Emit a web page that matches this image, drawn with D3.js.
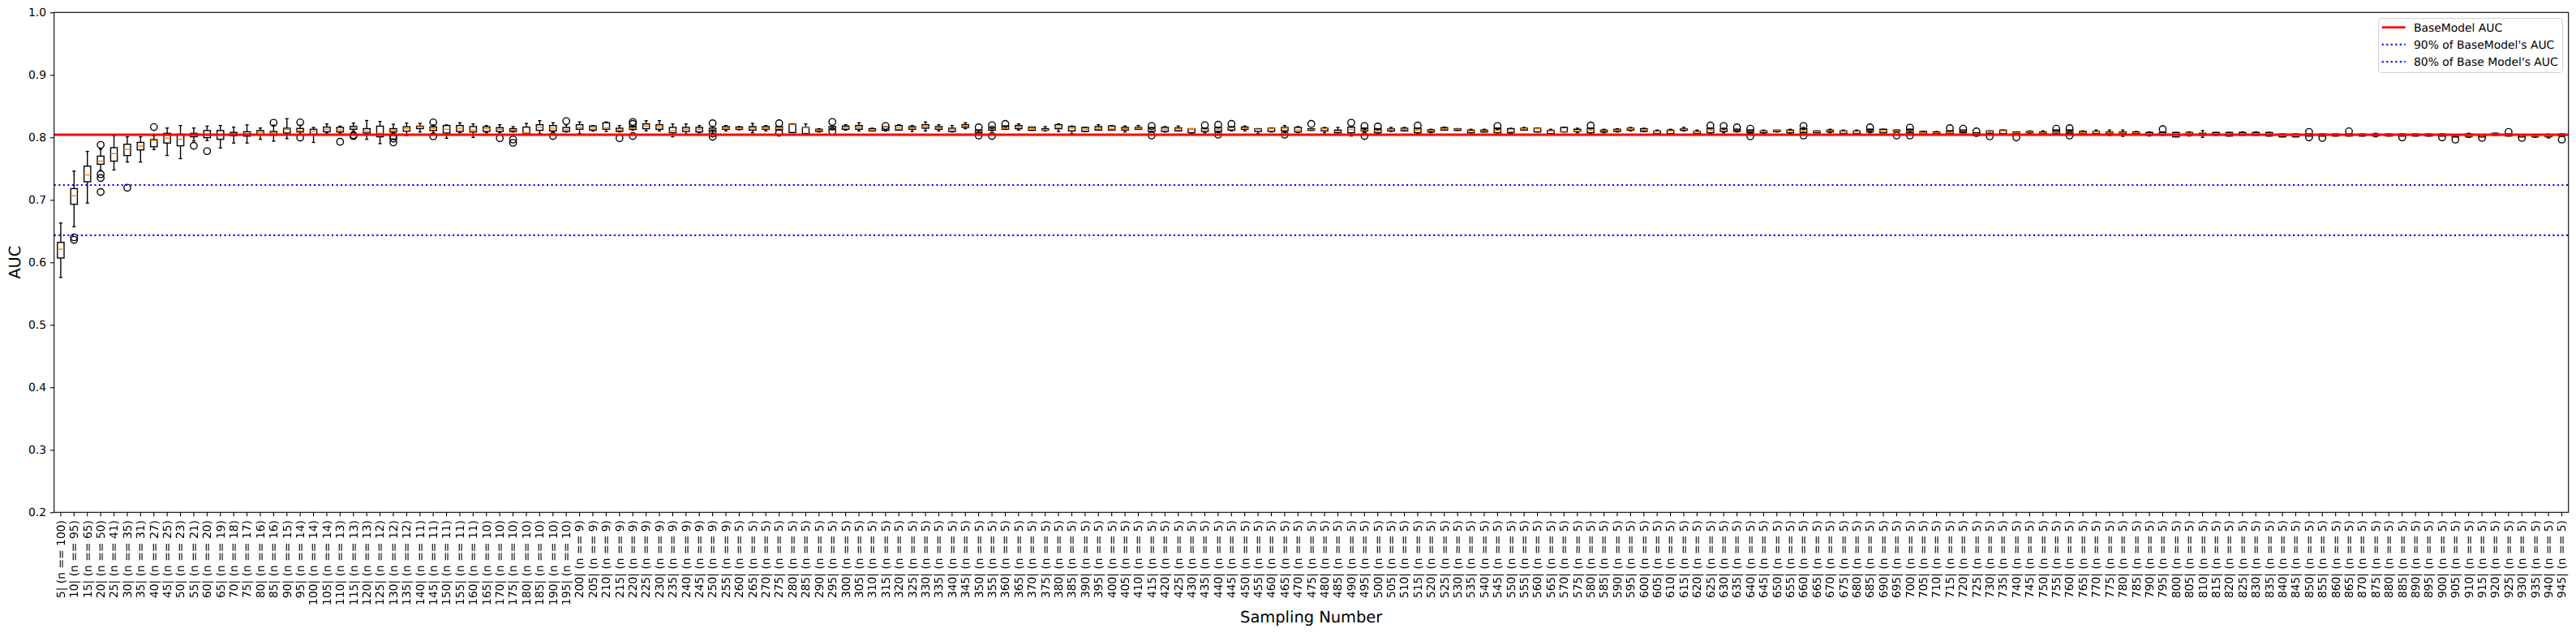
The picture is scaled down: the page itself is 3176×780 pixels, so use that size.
<!DOCTYPE html>
<html>
<head>
<meta charset="utf-8">
<script src="https://cdn.jsdelivr.net/npm/d3@7"></script>
<style>
  html, body { margin: 0; padding: 0; background: #fff; -webkit-font-smoothing: antialiased; }
  svg { display: block; font-family: "DejaVu Sans", sans-serif; }
  svg text { -webkit-font-smoothing: antialiased; text-rendering: geometricPrecision; }
</style>
</head>
<body>
<svg id="chart" width="3176" height="780"></svg>
<script>
// ---------------- DATA ----------------
const samplingNumbers = [
  5,10,15,20,25,30,35,40,45,50,55,60,65,70,75,80,85,90,95,100,
  105,110,115,120,125,130,135,140,145,150,155,160,165,170,175,180,185,190,195,200,
  205,210,215,220,225,230,235,240,245,250,255,260,265,270,275,280,285,290,295,300,
  305,310,315,320,325,330,335,340,345,350,355,360,365,370,375,380,385,390,395,400,
  405,410,415,420,425,430,435,440,445,450,455,460,465,470,475,480,485,490,495,500,
  505,510,515,520,525,530,535,540,545,550,555,560,565,570,575,580,585,590,595,600,
  605,610,615,620,625,630,635,640,645,650,655,660,665,670,675,680,685,690,695,700,
  705,710,715,720,725,730,735,740,745,750,755,760,765,770,775,780,785,790,795,800,
  805,810,815,820,825,830,835,840,845,850,855,860,865,870,875,880,885,890,895,900,
  905,910,915,920,925,930,935,940,945
];
const sampleCounts = [
  100,95,65,50,41,35,31,27,25,23,21,20,19,18,17,16,16,15,14,14,
  14,13,13,13,12,12,12,11,11,11,11,11,10,10,10,10,10,10,10,9,
  9,9,9,9,9,9,9,9,9,9,9,5,5,5,5,5,5,5,5,5,
  5,5,5,5,5,5,5,5,5,5,5,5,5,5,5,5,5,5,5,5,
  5,5,5,5,5,5,5,5,5,5,5,5,5,5,5,5,5,5,5,5,
  5,5,5,5,5,5,5,5,5,5,5,5,5,5,5,5,5,5,5,5,
  5,5,5,5,5,5,5,5,5,5,5,5,5,5,5,5,5,5,5,5,
  5,5,5,5,5,5,5,5,5,5,5,5,5,5,5,5,5,5,5,5,
  5,5,5,5,5,5,5,5,5,5,5,5,5,5,5,5,5,5,5,5,
  5,5,5,5,5,5,5,5,5
];
const whiskerLow = [
  0.576,0.657,0.695,0.747,0.748,0.7606,0.7606,0.7805,0.771,0.766,
  0.7944,0.795,0.783,0.791,0.791,0.797,0.794,0.798,0.805,0.792,
  0.807,0.807,0.810,0.797,0.790,0.8065,0.803,0.8087,0.807,0.7987,
  0.8074,0.8000,0.8074,0.8074,0.8087,0.8052,0.8061,0.8087,0.8087,0.8061,
  0.8104,0.8095,0.8087,0.8117,0.8104,0.8104,0.8009,0.8052,0.8074,0.8074,
  0.8104,0.8121,0.8074,0.8104,0.8117,0.8074,0.8061,0.8087,0.8121,0.8117,
  0.8104,0.8104,0.8104,0.8117,0.8095,0.8104,0.8104,0.8087,0.8139,0.8074,
  0.8104,0.813,0.8117,0.8113,0.8104,0.8095,0.8061,0.8095,0.8117,0.8117,
  0.8087,0.813,0.8095,0.8087,0.8104,0.8061,0.8074,0.8074,0.8104,0.8104,
  0.8061,0.8087,0.8074,0.8074,0.8113,0.8074,0.8074,0.8022,0.8095,0.8061,
  0.8095,0.8104,0.8061,0.8074,0.8117,0.8113,0.8074,0.8087,0.8043,0.8061,
  0.8117,0.8087,0.8043,0.8087,0.8074,0.8061,0.8074,0.8087,0.8104,0.8095,
  0.8043,0.8043,0.8104,0.8061,0.8061,0.8074,0.8087,0.8061,0.8061,0.8087,
  0.8061,0.8043,0.8074,0.8074,0.8061,0.8061,0.8074,0.8074,0.8095,0.8074,
  0.8052,0.8061,0.8061,0.8074,0.8017,0.8061,0.8052,0.8052,0.8061,0.8061,
  0.8043,0.8043,0.8061,0.8052,0.803,0.8017,0.8061,0.8022,0.8035,0.8009,
  0.8022,0.8,0.8035,0.8022,0.8035,0.8035,0.8022,0.8009,0.8009,0.8022,
  0.8022,0.8022,0.8022,0.8022,0.8009,0.8022,0.8022,0.8022,0.8022,0.8022,
  0.8009,0.8,0.8009,0.8035,0.8022,0.8009,0.8,0.7991,0.8022
];
const quartile1 = [
  0.607,0.693,0.729,0.757,0.762,0.771,0.780,0.785,0.791,0.7866,
  0.801,0.7996,0.797,0.8026,0.802,0.804,0.8035,0.807,0.8087,0.805,
  0.809,0.8087,0.813,0.807,0.801,0.8087,0.810,0.814,0.811,0.807,
  0.8095,0.8087,0.8095,0.8095,0.8095,0.8056,0.8113,0.8104,0.8095,0.813,
  0.8117,0.813,0.8095,0.813,0.8139,0.813,0.8074,0.8095,0.8087,0.8104,
  0.813,0.813,0.8117,0.813,0.8117,0.8078,0.8061,0.8095,0.813,0.813,
  0.813,0.8104,0.8113,0.8117,0.813,0.8147,0.813,0.8095,0.816,0.8074,
  0.8117,0.813,0.8139,0.8113,0.8113,0.8139,0.8104,0.8095,0.8117,0.8117,
  0.8117,0.813,0.8095,0.8095,0.8104,0.8074,0.8095,0.8095,0.8117,0.813,
  0.8095,0.8095,0.8104,0.8087,0.8113,0.8104,0.8074,0.8074,0.8104,0.8074,
  0.8104,0.8104,0.8074,0.8087,0.8117,0.8113,0.8074,0.8087,0.8074,0.8074,
  0.8117,0.8087,0.8061,0.8087,0.8095,0.8074,0.8087,0.8095,0.8117,0.8095,
  0.8061,0.8061,0.8113,0.8061,0.8074,0.8095,0.8095,0.8074,0.8074,0.8095,
  0.8074,0.8074,0.8074,0.8087,0.8061,0.8061,0.8087,0.8074,0.8095,0.8074,
  0.8052,0.8061,0.8061,0.8074,0.803,0.8061,0.8061,0.8061,0.8074,0.8061,
  0.8061,0.8061,0.8061,0.8061,0.8061,0.8061,0.8061,0.8035,0.8035,0.8009,
  0.8035,0.8035,0.8035,0.8022,0.8035,0.8035,0.8022,0.8009,0.8009,0.8022,
  0.8022,0.8022,0.8022,0.8022,0.8022,0.8022,0.8022,0.8022,0.8022,0.8022,
  0.8009,0.8009,0.8009,0.8035,0.8022,0.8009,0.8009,0.8009,0.8022
];
const medians = [
  0.621,0.7065,0.740,0.762,0.774,0.781,0.786,0.795,0.799,0.797,
  0.805,0.805,0.804,0.806,0.806,0.808,0.807,0.813,0.811,0.810,
  0.813,0.8117,0.816,0.810,0.8065,0.8117,0.814,0.817,0.8143,0.813,
  0.8147,0.8117,0.8139,0.813,0.8117,0.8074,0.816,0.8147,0.8126,0.8156,
  0.8152,0.8152,0.8117,0.8147,0.8182,0.8169,0.8104,0.813,0.813,0.8126,
  0.8147,0.8147,0.8152,0.8147,0.8147,0.8203,0.8156,0.8117,0.8147,0.816,
  0.816,0.8117,0.8165,0.8152,0.8152,0.8173,0.8152,0.813,0.8182,0.8095,
  0.8147,0.8147,0.816,0.8139,0.8121,0.816,0.8147,0.813,0.8147,0.8147,
  0.8139,0.8147,0.813,0.813,0.8139,0.8139,0.813,0.813,0.8156,0.8147,
  0.813,0.8139,0.8147,0.8117,0.8126,0.8139,0.8095,0.8126,0.8117,0.8104,
  0.813,0.813,0.8117,0.8104,0.8139,0.813,0.8104,0.8104,0.8117,0.8095,
  0.8139,0.8139,0.8104,0.8095,0.8104,0.8117,0.8104,0.8117,0.8139,0.8117,
  0.8095,0.8104,0.813,0.8087,0.8117,0.813,0.8117,0.8095,0.8095,0.8117,
  0.8104,0.8104,0.8095,0.8104,0.8095,0.8095,0.8104,0.8104,0.8104,0.8104,
  0.8074,0.8074,0.8074,0.8104,0.8061,0.8095,0.8104,0.8074,0.8087,0.8074,
  0.8095,0.8095,0.8074,0.8087,0.8074,0.8074,0.8074,0.8053,0.8053,0.8053,
  0.8066,0.8053,0.8053,0.8053,0.8053,0.8053,0.8053,0.8035,0.8035,0.8035,
  0.8035,0.8035,0.8035,0.8044,0.8035,0.8035,0.8035,0.8044,0.8044,0.8035,
  0.8022,0.8022,0.8022,0.8053,0.8035,0.8022,0.8022,0.8022,0.8035
];
const quartile3 = [
  0.632,0.718,0.754,0.770,0.7835,0.789,0.792,0.7965,0.8065,0.805,
  0.8065,0.811,0.811,0.808,0.809,0.811,0.8095,0.8147,0.8143,0.813,
  0.8165,0.816,0.8177,0.814,0.818,0.814,0.817,0.818,0.817,0.819,
  0.819,0.8173,0.8169,0.8156,0.8139,0.8165,0.8203,0.819,0.816,0.8203,
  0.8182,0.8234,0.8147,0.8173,0.8216,0.8203,0.816,0.816,0.816,0.8147,
  0.8173,0.8165,0.8173,0.8173,0.8173,0.8212,0.816,0.813,0.8173,0.8182,
  0.819,0.8139,0.8169,0.819,0.8173,0.8203,0.8173,0.8147,0.8203,0.8117,
  0.816,0.8182,0.819,0.8165,0.8139,0.8203,0.8173,0.816,0.8173,0.8182,
  0.816,0.816,0.8156,0.816,0.8152,0.8139,0.8147,0.816,0.8169,0.8165,
  0.8139,0.8147,0.816,0.816,0.8139,0.8147,0.8117,0.8165,0.8147,0.8139,
  0.8139,0.8147,0.8147,0.8121,0.8156,0.8139,0.8117,0.8117,0.8147,0.8139,
  0.8147,0.8147,0.8113,0.816,0.813,0.8147,0.8117,0.813,0.8147,0.8139,
  0.8104,0.8117,0.8139,0.8095,0.8147,0.8139,0.813,0.8117,0.8104,0.8117,
  0.8117,0.8139,0.8104,0.8117,0.8104,0.8104,0.813,0.813,0.8117,0.813,
  0.8095,0.8087,0.8104,0.8117,0.8074,0.8104,0.8117,0.8087,0.8095,0.8087,
  0.8117,0.8117,0.8095,0.8095,0.8087,0.8087,0.8087,0.8079,0.8079,0.8079,
  0.8079,0.8066,0.8079,0.8079,0.8079,0.8079,0.8079,0.8053,0.8053,0.8053,
  0.8053,0.8053,0.8053,0.8053,0.8053,0.8053,0.8053,0.8053,0.8053,0.8053,
  0.8044,0.8053,0.8035,0.8066,0.8053,0.8035,0.8035,0.8035,0.8053
];
const whiskerHigh = [
  0.663,0.746,0.7775,0.781,0.803,0.801,0.801,0.803,0.815,0.819,
  0.815,0.818,0.819,0.8165,0.820,0.815,0.8195,0.830,0.8195,0.816,
  0.8216,0.818,0.823,0.827,0.8255,0.821,0.823,0.8225,0.820,0.820,
  0.8234,0.8216,0.819,0.8203,0.8173,0.8225,0.8268,0.8234,0.8203,0.8247,
  0.819,0.8247,0.819,0.8182,0.8268,0.8268,0.8216,0.8216,0.819,0.8173,
  0.819,0.8173,0.8225,0.819,0.8173,0.8216,0.8216,0.8139,0.8182,0.8203,
  0.8234,0.8147,0.8169,0.8203,0.819,0.8247,0.8203,0.819,0.8234,0.8117,
  0.8173,0.8182,0.8216,0.8165,0.8173,0.8216,0.8182,0.816,0.8203,0.819,
  0.8182,0.819,0.8156,0.8173,0.8182,0.8139,0.8147,0.816,0.8169,0.8182,
  0.8139,0.8147,0.819,0.8173,0.8139,0.816,0.816,0.8165,0.8147,0.8139,
  0.816,0.816,0.8147,0.813,0.8165,0.8139,0.813,0.813,0.8147,0.8147,
  0.816,0.8147,0.813,0.816,0.8147,0.8147,0.813,0.8139,0.816,0.8147,
  0.8117,0.813,0.816,0.8117,0.8147,0.8147,0.813,0.8117,0.8117,0.8117,
  0.813,0.816,0.8104,0.813,0.8117,0.8117,0.813,0.813,0.8117,0.813,
  0.8095,0.8095,0.8104,0.8117,0.8074,0.8104,0.8117,0.8087,0.8104,0.8104,
  0.8117,0.8117,0.8104,0.8117,0.8117,0.8117,0.8095,0.8088,0.8088,0.8079,
  0.8088,0.811,0.8079,0.8079,0.8088,0.8088,0.8079,0.8053,0.8053,0.8053,
  0.8053,0.8053,0.8053,0.8053,0.8066,0.8053,0.8053,0.8053,0.8053,0.8053,
  0.8044,0.8066,0.8035,0.8066,0.8053,0.8035,0.8044,0.8053,0.8053
];
const outlierSampling = [
  10,10,20,20,20,20,30,40,55,60,85,95,95,110,115,115,130,130,130,145,145,
  170,175,175,190,195,215,220,220,220,250,250,250,275,275,295,295,315,
  350,350,355,355,360,415,415,435,440,440,445,465,475,490,495,495,500,
  515,545,580,625,630,635,640,640,660,660,685,695,700,700,715,720,725,
  730,740,755,760,760,795,850,850,855,865,885,900,905,915,925,930,945
];
const outlierAUC = [
  0.640,0.636,0.788,0.741,0.735,0.7126,0.7195,0.8165,0.7866,0.778,0.8234,0.824,0.7996,0.793,0.8035,0.802,0.8017,0.798,0.792,0.824,0.8017,
  0.7987,0.7965,0.7913,0.8022,0.826,0.7987,0.8247,0.8216,0.8022,0.8225,0.8061,0.8009,0.8225,0.8074,0.8247,0.8095,0.8182,
  0.816,0.803,0.8195,0.8022,0.8216,0.8182,0.803,0.8195,0.8203,0.8043,0.8216,0.8043,0.8216,0.8234,0.8182,0.8022,0.8173,
  0.819,0.8182,0.819,0.819,0.8182,0.816,0.8139,0.8017,0.8182,0.803,0.816,0.803,0.8156,0.803,0.8147,0.8139,0.8095,
  0.8017,0.8,0.8139,0.8147,0.803,0.8132,0.8088,0.8,0.7991,0.8097,0.8,0.8,0.7965,0.7991,0.8088,0.7991,0.7965
];
const baseModelAUC = 0.8043;
const referenceLines = [
  { label: "BaseModel AUC", factor: 1.0 },
  { label: "90% of BaseModel's AUC", factor: 0.9 },
  { label: "80% of Base Model's AUC", factor: 0.8 }
];
const yTickValues = [0.2, 0.3, 0.4, 0.5, 0.6, 0.7, 0.8, 0.9, 1.0];

// ---------------- LAYOUT ----------------
const pt = 100 / 72;
const margin = { left: 66.7, top: 15.3 };
const W = 3100, H = 616;
const svg = d3.select("#chart");
svg.append("rect").attr("width", 3176).attr("height", 780).attr("fill", "#fff");
const g = svg.append("g").attr("transform", `translate(${margin.left},${margin.top})`);

const labels = samplingNumbers.map((s, i) => `${s}| (n == ${sampleCounts[i]})`);
const x = d3.scaleBand().domain(labels).range([0, W]).paddingInner(0.5).paddingOuter(0.25);
const y = d3.scaleLinear().domain([0.2, 1.0]).range([H, 0]);

const boxes = samplingNumbers.map((s, i) => ({
  label: labels[i], lo: whiskerLow[i], q1: quartile1[i], med: medians[i], q3: quartile3[i], hi: whiskerHigh[i]
}));
const lw = 1 * pt;
const bw = x.bandwidth();
const capW = bw / 2;

const bg = g.append("g");
const bx = bg.selectAll("g.box").data(boxes).join("g")
  .attr("transform", d => `translate(${x(d.label) + bw / 2},0)`);
bx.append("line").attr("x1", 0).attr("x2", 0).attr("y1", d => y(d.q1)).attr("y2", d => y(d.lo))
  .attr("stroke", "#000").attr("stroke-width", lw);
bx.append("line").attr("x1", 0).attr("x2", 0).attr("y1", d => y(d.q3)).attr("y2", d => y(d.hi))
  .attr("stroke", "#000").attr("stroke-width", lw);
bx.append("line").attr("x1", -capW / 2).attr("x2", capW / 2).attr("y1", d => y(d.lo)).attr("y2", d => y(d.lo))
  .attr("stroke", "#000").attr("stroke-width", lw);
bx.append("line").attr("x1", -capW / 2).attr("x2", capW / 2).attr("y1", d => y(d.hi)).attr("y2", d => y(d.hi))
  .attr("stroke", "#000").attr("stroke-width", lw);
bx.append("rect").attr("x", -bw / 2).attr("width", bw)
  .attr("y", d => y(d.q3)).attr("height", d => Math.max(0.01, y(d.q1) - y(d.q3)))
  .attr("fill", "none").attr("stroke", "#000").attr("stroke-width", lw);
bx.append("line").attr("x1", -bw / 2).attr("x2", bw / 2).attr("y1", d => y(d.med)).attr("y2", d => y(d.med))
  .attr("stroke", "#ff7f0e").attr("stroke-width", lw);

const outliers = outlierSampling.map((s, i) => ({ label: labels[samplingNumbers.indexOf(s)], v: outlierAUC[i] }));
bg.selectAll("circle.flier").data(outliers).join("circle")
  .attr("cx", d => x(d.label) + bw / 2).attr("cy", d => y(d.v)).attr("r", 3 * pt)
  .attr("fill", "none").attr("stroke", "#000").attr("stroke-width", lw);

// reference lines
const lineStyles = [
  { color: "#ff0000", width: 2 * pt, dash: null },
  { color: "#0000ff", width: 1.5 * pt, dash: `${1.5 * pt} ${1.65 * 1.5 * pt}` },
  { color: "#0000ff", width: 1.5 * pt, dash: `${1.5 * pt} ${1.65 * 1.5 * pt}` }
];
referenceLines.forEach((r, i) => {
  const yy = y(baseModelAUC * r.factor);
  g.append("line").attr("x1", 0).attr("x2", W).attr("y1", yy).attr("y2", yy)
    .attr("stroke", lineStyles[i].color).attr("stroke-width", lineStyles[i].width)
    .attr("stroke-dasharray", lineStyles[i].dash);
});

// axes
const fs = 10 * pt;
const tickLen = 3.5 * pt;
const yAxis = g.append("g").call(d3.axisLeft(y).tickValues(yTickValues).tickFormat(d3.format(".1f"))
  .tickSize(tickLen).tickPadding(3.5 * pt).tickSizeOuter(0));
yAxis.select(".domain").remove();
yAxis.selectAll(".tick line").attr("stroke-width", 0.8 * pt);
yAxis.selectAll("text").style("font-size", fs + "px").style("font-family", "DejaVu Sans").attr("fill", "#000");

const xAxis = g.append("g").attr("transform", `translate(0,${H})`).style("filter", "grayscale(1)")
  .call(d3.axisBottom(x).tickSize(tickLen).tickSizeOuter(0));
xAxis.select(".domain").remove();
xAxis.selectAll(".tick line").attr("stroke-width", 0.8 * pt);
xAxis.selectAll("text")
  .attr("transform", "rotate(-90)")
  .attr("x", -(tickLen + 3.5 * pt)).attr("y", 0).attr("dy", "0.35em")
  .style("text-anchor", "end").style("font-size", fs + "px").style("font-family", "DejaVu Sans").attr("fill", "#000");

// frame
g.append("rect").attr("width", W).attr("height", H).attr("fill", "none")
  .attr("stroke", "#000").attr("stroke-width", 0.8 * pt);

// axis labels
svg.append("text").attr("transform", `translate(24.5,${margin.top + H / 2}) rotate(-90)`)
  .attr("text-anchor", "middle").style("font-size", 14 * pt + "px").text("AUC");
svg.append("text").attr("x", margin.left + W / 2).attr("y", 767)
  .attr("text-anchor", "middle").style("font-size", 14 * pt + "px").text("Sampling Number");

// legend
const lg = svg.append("g").attr("transform", "translate(2932.7,22.7)");
lg.append("rect").attr("width", 226.6).attr("height", 66.6).attr("rx", 3)
  .attr("fill", "#fff").attr("fill-opacity", 0.8).attr("stroke", "#cccccc").attr("stroke-width", 1);
referenceLines.forEach((r, i) => {
  const yy = 11 + i * 21.2;
  lg.append("line").attr("x1", 4).attr("x2", 33).attr("y1", yy).attr("y2", yy)
    .attr("stroke", lineStyles[i].color).attr("stroke-width", lineStyles[i].width)
    .attr("stroke-dasharray", lineStyles[i].dash);
  lg.append("text").attr("x", 43.3).attr("y", yy).attr("dy", "0.35em")
    .style("font-size", fs + "px").text(r.label);
});
</script>
</body>
</html>
